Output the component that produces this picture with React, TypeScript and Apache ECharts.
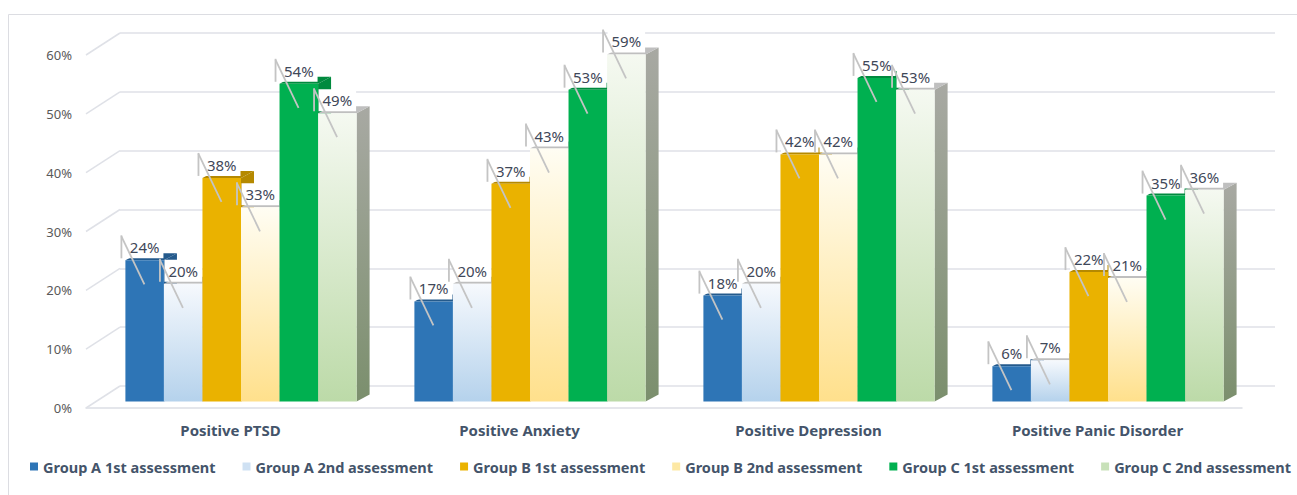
import React, { useEffect, useRef } from "react";
import * as echarts from "echarts";

// Categories, series and tick values
const categories = [
  "Positive PTSD",
  "Positive Anxiety",
  "Positive Depression",
  "Positive Panic Disorder",
];
const seriesNames = [
  "Group A 1st assessment",
  "Group A 2nd assessment",
  "Group B 1st assessment",
  "Group B 2nd assessment",
  "Group C 1st assessment",
  "Group C 2nd assessment",
];
const groupA1st = [24, 17, 18, 6];
const groupA2nd = [20, 20, 20, 7];
const groupB1st = [38, 37, 42, 22];
const groupB2nd = [33, 43, 42, 21];
const groupC1st = [54, 53, 55, 35];
const groupC2nd = [49, 59, 53, 36];
const yTicks = [0, 10, 20, 30, 40, 50, 60];

const seriesValues = [groupA1st, groupA2nd, groupB1st, groupB2nd, groupC1st, groupC2nd];

const vGrad = (top: string, bottom: string) =>
  new echarts.graphic.LinearGradient(0, 0, 0, 1, [
    { offset: 0, color: top },
    { offset: 1, color: bottom },
  ]);

// Face colours for each column: legend swatch, front, top, right side
const looks = [
  { swatch: "#2e75b6", front: () => "#2e75b6", top: "#245a8c", side: () => "#245a8c" },
  { swatch: "#cfe1f3", front: () => vGrad("#f6f9fd", "#b5d2ec"), top: "#bfbfbf", side: () => vGrad("#a9a9a9", "#8ea3b8") },
  { swatch: "#eab200", front: () => "#eab200", top: "#b58900", side: () => "#b58900" },
  { swatch: "#fde8a4", front: () => vGrad("#fffdf3", "#ffe08c"), top: "#bfbfbf", side: () => vGrad("#a9a9a9", "#b0a070") },
  { swatch: "#00b050", front: () => "#00b050", top: "#008a3e", side: () => "#008a3e" },
  { swatch: "#c8e1b9", front: () => vGrad("#f5f9f1", "#bcdaa8"), top: "#bfbfbf", side: () => vGrad("#a8a9a3", "#7b8f6d") },
];

const DEPTH_X = 13;
const DEPTH_Y = -7;

function columnRenderer(idx: number) {
  const look = looks[idx];
  return (params: any, api: any) => {
    const cat = api.value(0);
    const v = api.value(1);
    const base = api.coord([cat, 0]);
    const tip = api.coord([cat, v]);
    const band = api.size([1, 0])[0];
    const bw = (band * 0.8) / 6;
    const left = base[0] - band * 0.4 + idx * bw;
    const right = left + bw;
    const yT = tip[1];
    const yB = base[1];
    const lineStyle = { stroke: "#c4c4c4", lineWidth: 1.8, fill: "none" };
    return {
      type: "group",
      children: [
        {
          type: "polygon",
          shape: {
            points: [
              [right, yT],
              [right + DEPTH_X, yT + DEPTH_Y],
              [right + DEPTH_X, yB + DEPTH_Y],
              [right, yB],
            ],
          },
          style: { fill: look.side() },
        },
        {
          type: "polygon",
          shape: {
            points: [
              [left, yT],
              [right, yT],
              [right + DEPTH_X, yT + DEPTH_Y],
              [left + DEPTH_X, yT + DEPTH_Y],
            ],
          },
          style: { fill: look.top },
        },
        {
          type: "rect",
          shape: { x: left, y: yT, width: bw, height: yB - yT },
          style: { fill: look.front() },
        },
        {
          type: "rect",
          shape: { x: left + 0.5, y: yT - 24, width: bw - 1, height: 22 },
          style: { fill: "#ffffff" },
        },
        {
          type: "text",
          x: left + bw / 2,
          y: yT - 13,
          style: {
            text: v + "%",
            fill: "#3f4859",
            fontSize: 15,
            fontFamily: "Noto Sans",
            align: "center",
            verticalAlign: "middle",
          },
        },
        {
          type: "line",
          shape: { x1: left - 4, y1: yT - 25, x2: left - 4, y2: yT - 2 },
          style: lineStyle,
        },
        {
          type: "line",
          shape: { x1: left - 4, y1: yT - 24, x2: left + 19, y2: yT + 24 },
          style: lineStyle,
        },
      ],
    };
  };
}

export default function App() {
  const ref = useRef<HTMLDivElement>(null);

  useEffect(() => {
    if (!ref.current) return;
    const chart = echarts.init(ref.current, null, { renderer: "svg" });

    const columnSeries = seriesValues.map((vals, idx) => ({
      name: seriesNames[idx],
      type: "custom",
      xAxisIndex: 2,
      yAxisIndex: 2,
      z: 3,
      itemStyle: { color: looks[idx].swatch },
      renderItem: columnRenderer(idx),
      data: vals.map((v, i) => [i, v]),
    }));

    chart.setOption({
      animation: false,
      backgroundColor: "#ffffff",
      graphic: [
        {
          type: "rect",
          silent: true,
          z: -10,
          shape: { x: 8.5, y: 14.5, width: 1300, height: 500 },
          style: { fill: "none", stroke: "#dcdde2", lineWidth: 1 },
        },
      ],
      grid: [
        // front edge of the floor / side wall (labels)
        { left: 86, right: 55, top: 55, bottom: 87 },
        // back wall with gridlines
        { left: 120, right: 22, top: 33, bottom: 109 },
        // columns
        { left: 96.5, right: 44.5, top: 48.5, bottom: 93.5 },
      ],
      xAxis: [
        {
          gridIndex: 0,
          type: "category",
          data: categories,
          axisLine: { lineStyle: { color: "#dcdee5", width: 1.5 } },
          axisTick: { show: false },
          axisLabel: {
            margin: 14,
            color: "#44546a",
            fontSize: 15,
            fontWeight: "bold",
            fontFamily: "Noto Sans",
          },
        },
        { gridIndex: 1, type: "value", min: 0, max: 1, show: false },
        { gridIndex: 2, type: "category", data: categories, show: false },
      ],
      yAxis: [
        {
          gridIndex: 0,
          type: "value",
          min: 0,
          max: 60,
          interval: 10,
          axisLine: { show: false },
          axisTick: { show: false },
          splitLine: { show: false },
          axisLabel: {
            margin: 14,
            formatter: "{value}%",
            color: "#595959",
            fontSize: 13,
            fontFamily: "Noto Sans",
          },
        },
        {
          gridIndex: 1,
          type: "value",
          min: 0,
          max: 60,
          interval: 10,
          axisLine: { show: false },
          axisTick: { show: false },
          axisLabel: { show: false },
          splitLine: { lineStyle: { color: "#dfe1e7", width: 1.5 } },
        },
        { gridIndex: 2, type: "value", min: 0, max: 60, interval: 10, show: false },
      ],
      legend: {
        data: seriesNames,
        left: 30,
        top: 459,
        width: 1267,
        padding: 0,
        icon: "rect",
        itemWidth: 8,
        itemHeight: 8,
        itemGap: 27,
        selectedMode: false,
        textStyle: {
          color: "#44546a",
          fontSize: 14.5,
          fontWeight: "bold",
          fontFamily: "Noto Sans",
        },
      },
      series: [
        // side-wall edges joining each tick to its back-wall gridline
        {
          type: "custom",
          xAxisIndex: 1,
          yAxisIndex: 1,
          z: 1,
          silent: true,
          data: yTicks.map((t) => [0, t]),
          renderItem: (params: any, api: any) => {
            const p = api.coord([0, api.value(1)]);
            return {
              type: "line",
              shape: { x1: p[0] - 34, y1: p[1] + 22, x2: p[0], y2: p[1] },
              style: { stroke: "#dfe1e7", lineWidth: 1.5 },
            };
          },
        },
        ...columnSeries,
      ],
    });

    return () => chart.dispose();
  }, []);

  return (
    <div
      ref={ref}
      style={{ position: "absolute", left: 0, top: 0, width: 1297, height: 495 }}
    />
  );
}
